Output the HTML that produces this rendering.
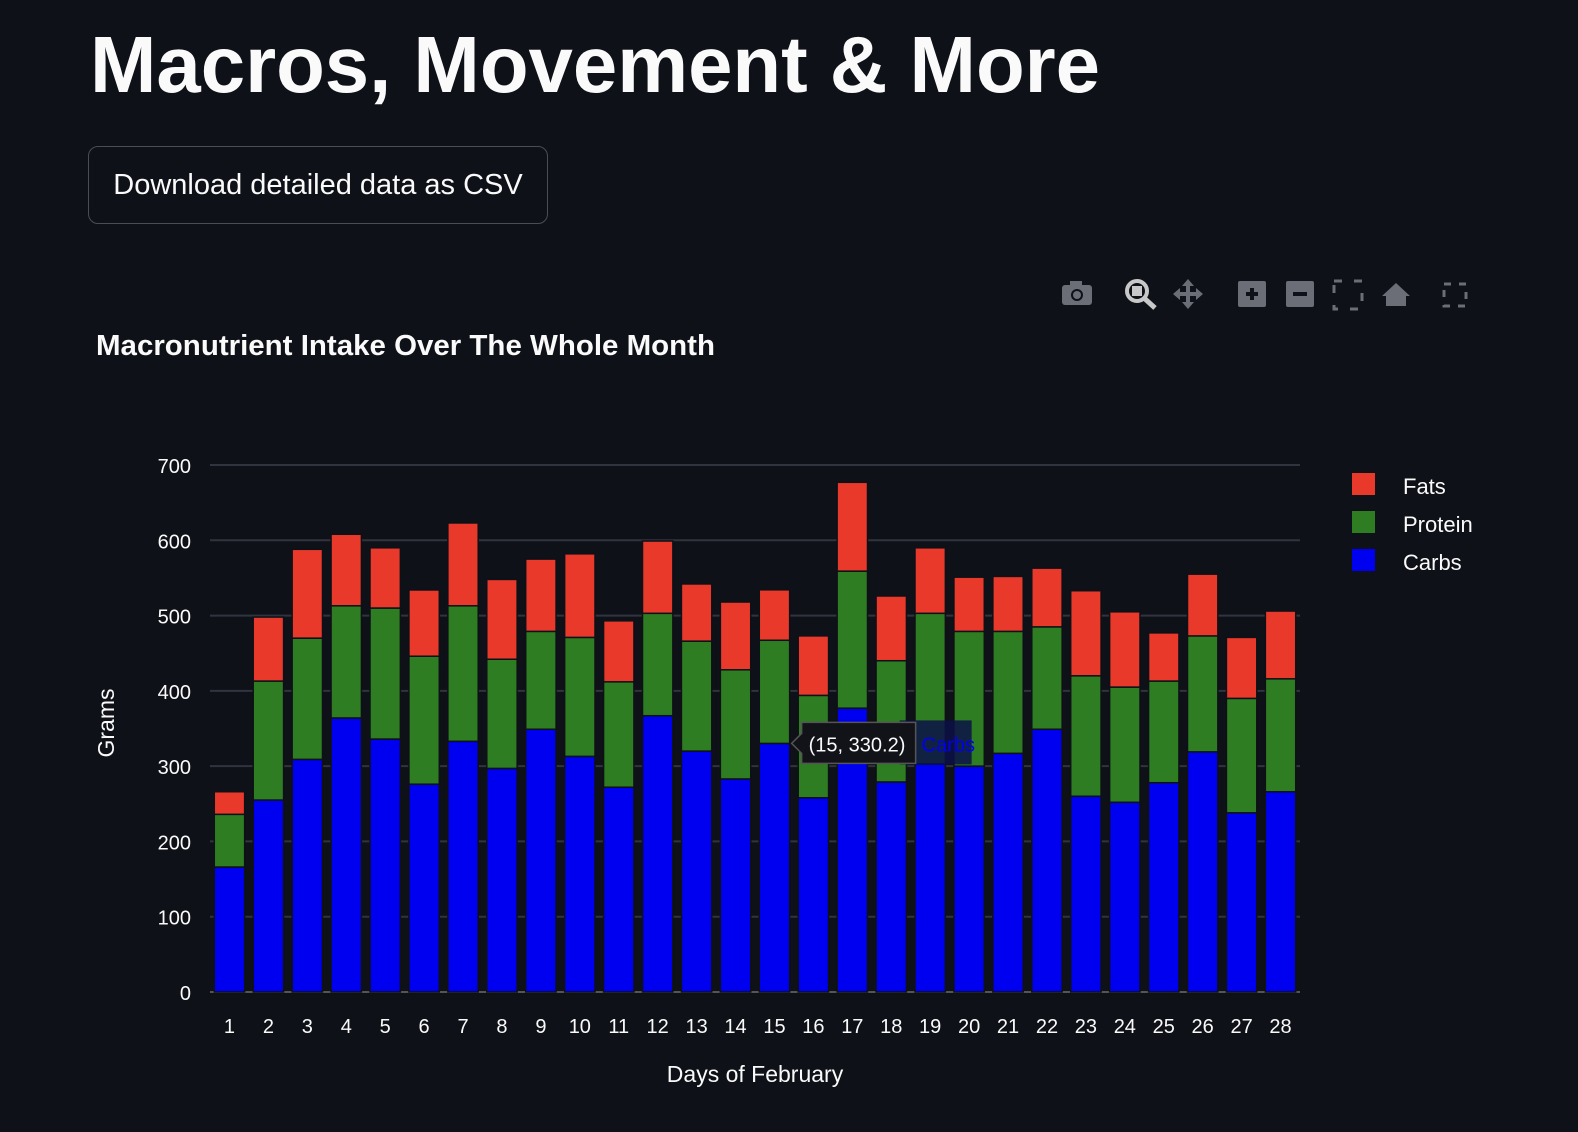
<!DOCTYPE html>
<html><head><meta charset="utf-8">
<style>
body{margin:0;background:#0e1117;width:1578px;height:1132px;overflow:hidden;font-family:"Liberation Sans",sans-serif;color:#fafafa;position:relative}
.btn{position:absolute;left:88px;top:146px;width:460px;height:78px;border:1.5px solid #4a4d57;border-radius:10px;box-sizing:border-box;background:#0e1117;color:#fafafa;font-size:29px;line-height:76px;text-align:center;font-family:"Liberation Sans",sans-serif}
svg{position:absolute;left:0;top:0}
</style></head><body>
<svg id="c" width="1578" height="1132">
<text x="90" y="92" font-size="80" font-weight="700" fill="#fafafa" textLength="1010" lengthAdjust="spacingAndGlyphs">Macros, Movement &amp; More</text>
<g fill="#6b6e76">
<g><rect x="1062" y="285" width="30" height="20" rx="3"/><rect x="1070" y="281" width="12" height="6"/><circle cx="1077" cy="295" r="6" fill="#0e1117"/><circle cx="1077" cy="295" r="4"/></g>
<g><circle cx="1137" cy="291" r="10" fill="none" stroke="#c8c8c8" stroke-width="4"/><rect x="1132" y="286" width="10" height="10" fill="#c8c8c8"/><line x1="1144" y1="298" x2="1155" y2="308" stroke="#c8c8c8" stroke-width="5"/></g>
<g><g stroke="#6b6e76" stroke-width="4"><line x1="1188" y1="282" x2="1188" y2="306"/><line x1="1176" y1="294" x2="1200" y2="294"/></g><path d="M1188 279 L1182 286 L1194 286Z M1188 309 L1182 302 L1194 302Z M1173 294 L1180 288 L1180 300Z M1203 294 L1196 288 L1196 300Z"/></g>
<g><rect x="1238" y="281" width="28" height="26" rx="2"/><path d="M1246 294 H1258 M1252 288 V300" stroke="#0e1117" stroke-width="4"/></g>
<g><rect x="1286" y="281" width="28" height="26" rx="2"/><path d="M1293 294 H1307" stroke="#0e1117" stroke-width="4"/></g>
<rect x="1334" y="281" width="28" height="28" fill="none" stroke="#6b6e76" stroke-width="3" stroke-dasharray="8 12"/>
<path d="M1382 296 L1396 283 L1410 296 L1406 296 L1406 306 L1386 306 L1386 296Z"/>
<rect x="1444" y="284" width="22" height="22" fill="none" stroke="#6b6e76" stroke-width="3" stroke-dasharray="7 8"/>
</g>
<text x="96" y="355" font-size="29" font-weight="700" fill="#fafafa" textLength="619" lengthAdjust="spacingAndGlyphs">Macronutrient Intake Over The Whole Month</text>
<g id="grid"></g><g id="bars"></g><g id="ticks"></g>
<text transform="translate(114,723) rotate(-90)" text-anchor="middle" font-size="23" fill="#fafafa">Grams</text>
<text x="755" y="1082" text-anchor="middle" font-size="23" fill="#fafafa">Days of February</text>
<g font-size="22" fill="#fafafa">
<g><rect x="1352" y="473" width="23" height="22" fill="#e8392b"/><text x="1403" y="494">Fats</text></g>
<g><rect x="1352" y="511" width="23" height="22" fill="#2e7d22"/><text x="1403" y="532">Protein</text></g>
<g><rect x="1352" y="549" width="23" height="22" fill="#0000f0"/><text x="1403" y="570">Carbs</text></g>
</g>
<g id="tip"></g>
</svg>
<div class="btn">Download detailed data as CSV</div>
<script>
const days=[1,2,3,4,5,6,7,8,9,10,11,12,13,14,15,16,17,18,19,20,21,22,23,24,25,26,27,28];
const carbs=[166,255,309,364,336,276,333,297,349,313,272,367,320,283,330.2,258,377,279,303,300,317,349,260,252,278,319,238,266];
const protein=[70,158,161,149,174,170,180,145,130,158,140,136,146,145,137,136,182,161,200,179,162,136,160,153,135,154,152,150];
const fats=[30,85,118,95,80,88,110,106,96,111,81,96,76,90,67,79,118,86,87,72,73,78,113,100,64,82,81,90];
const yTicks=[0,100,200,300,400,500,600,700];
const NS="http://www.w3.org/2000/svg";
const x0=210,x1=1300,yb=992,yt=465,ymax=700;
const y=v=>yb-(v/ymax)*(yb-yt);
const slot=(x1-x0)/days.length;
const xc=i=>x0+slot*(i+0.5);
function mk(t,a,p){const e=document.createElementNS(NS,t);for(const k in a)e.setAttribute(k,a[k]);p.appendChild(e);return e;}
const grid=document.getElementById('grid'),ticks=document.getElementById('ticks'),bars=document.getElementById('bars');
yTicks.forEach(v=>{
 const l=mk('line',{x1:x0,x2:x1,y1:y(v),y2:y(v),stroke:v===0?'#555':'#31333f','stroke-width':2},grid);
 
 
 const t=mk('text',{x:191,y:y(v)+8,'text-anchor':'end','font-size':20,fill:'#fafafa'},ticks);
 t.textContent=v;
 
 
});
const bw=slot*0.78;
days.forEach((d,i)=>{
 const segs=[[carbs[i],'#0000f0','carbs'],[protein[i],'#2e7d22','protein'],[fats[i],'#e8392b','fats']];
 let base=0;
 segs.forEach(s=>{
  const r=mk('rect',{x:xc(i)-bw/2,y:y(base+s[0]),width:bw,height:y(base)-y(base+s[0]),fill:s[1],stroke:'#0e1117','stroke-width':1.5},bars);
  
  
  base+=s[0];
 });
 const t=mk('text',{x:xc(i),y:1033,'text-anchor':'middle','font-size':20,fill:'#fafafa'},ticks);
 t.textContent=d;
 
 
});
const ti=14,tip=document.getElementById('tip');
const ty=y(carbs[ti]),tx=xc(ti)+bw/2;
const g=mk('g',{},tip);


mk('rect',{x:tx+110,y:ty-23,width:72,height:44,fill:'#0c1048','fill-opacity':0.85},g);
mk('path',{d:`M${tx+2} ${ty} L${tx+12} ${ty-10} L${tx+12} ${ty-21} L${tx+126} ${ty-21} L${tx+126} ${ty+20} L${tx+12} ${ty+20} L${tx+12} ${ty+10}Z`,fill:'#111318',stroke:'#555','stroke-width':1.5},g);
const t1=mk('text',{x:tx+19,y:ty+8,'font-size':20,fill:'#fafafa'},g);t1.textContent='('+days[ti]+', '+carbs[ti]+')';
const t2=mk('text',{x:tx+132,y:ty+8,'font-size':20,fill:'#0000f0'},g);t2.textContent='Carbs';
</script>
</body></html>
